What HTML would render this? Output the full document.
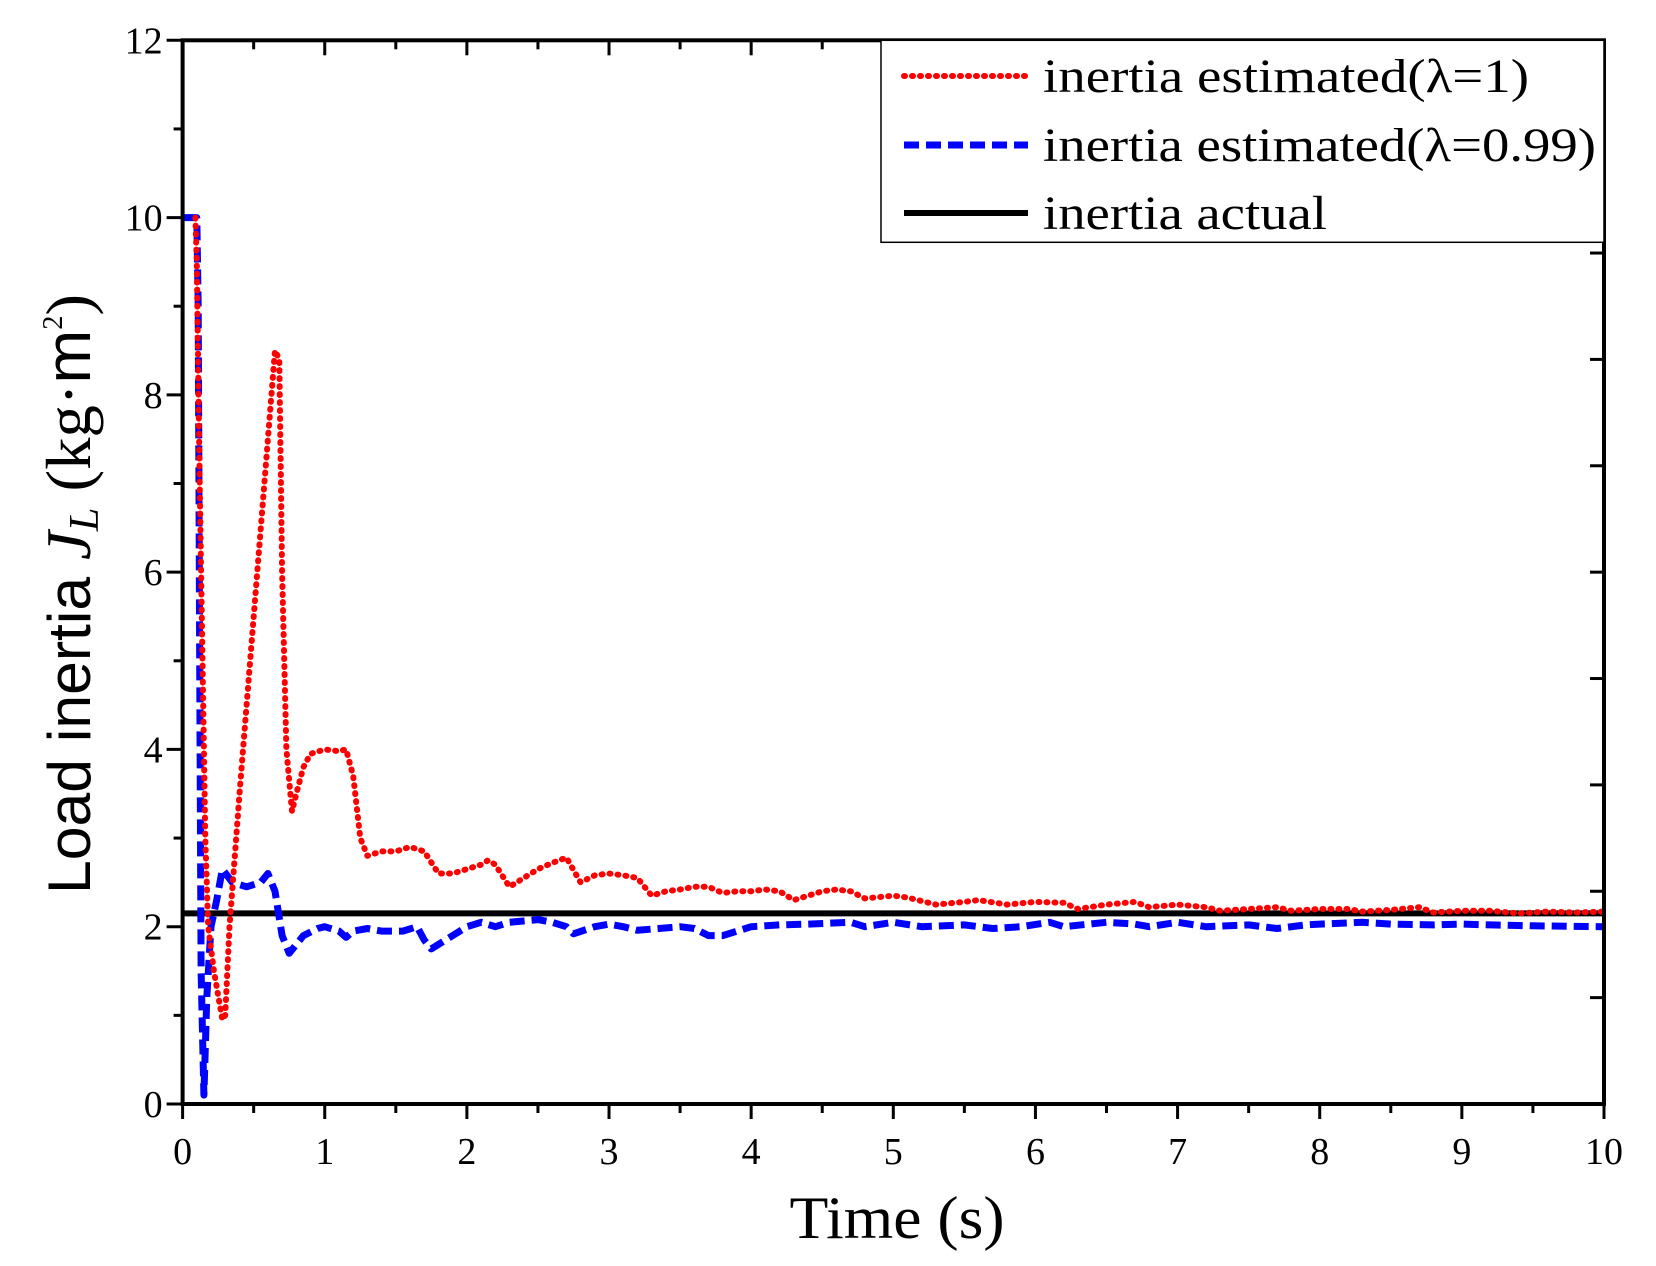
<!DOCTYPE html>
<html><head><meta charset="utf-8"><style>
html,body{margin:0;padding:0;background:#fff;}
svg{display:block;font-family:"Liberation Serif",serif;}
</style></head><body>
<svg id="chart" width="1656" height="1266" viewBox="0 0 1656 1266" xmlns="http://www.w3.org/2000/svg">
<g id="grid-ticks"></g>
<g id="series"></g>
<rect x="182.6" y="40.3" width="1421.4" height="1063.7" fill="none" stroke="#000" stroke-width="4"/>
<g id="ticklabels" font-size="38"></g>
<text x="897" y="1238" font-size="60" text-anchor="middle" textLength="215" lengthAdjust="spacingAndGlyphs">Time (s)</text>
<text transform="translate(90,594) rotate(-90)" font-size="64" text-anchor="middle" textLength="600" lengthAdjust="spacingAndGlyphs"><tspan font-family="Liberation Sans, sans-serif" font-size="60">Load inertia </tspan><tspan font-style="italic">J</tspan><tspan font-style="italic" font-size="42" dy="8">L</tspan><tspan dy="-8"> (kg·</tspan><tspan font-family="Liberation Sans, sans-serif">m</tspan><tspan font-size="28" dy="-28">2</tspan><tspan dy="28">)</tspan></text>
<g>
<rect x="881" y="40.3" width="723" height="202" fill="#fff" stroke="#000" stroke-width="1.5"/>
<line x1="904" y1="76" x2="1028" y2="76" stroke="#f00" stroke-width="6" stroke-dasharray="1 7" stroke-linecap="round"/>
<text x="1043" y="92" font-size="48" textLength="486" lengthAdjust="spacingAndGlyphs">inertia estimated(λ=1)</text>
<line x1="904" y1="145" x2="1028" y2="145" stroke="#00f" stroke-width="7" stroke-dasharray="15 7"/>
<text x="1043" y="161" font-size="48" textLength="553" lengthAdjust="spacingAndGlyphs">inertia estimated(λ=0.99)</text>
<line x1="904" y1="213" x2="1028" y2="213" stroke="#000" stroke-width="6"/>
<text x="1043" y="229" font-size="48" textLength="284" lengthAdjust="spacingAndGlyphs">inertia actual</text>
</g>
</svg>
<script>
const xTicks=[0,1,2,3,4,5,6,7,8,9,10];
const yTicks=[0,2,4,6,8,10,12];
const redT=[0.09,0.1,0.12,0.14,0.16,0.18,0.22,0.28,0.3,0.33,0.4,0.5,0.6,0.65,0.68,0.7,0.73,0.77,0.8,0.85,0.9,1.0,1.1,1.15,1.2,1.25,1.3,1.4,1.5,1.6,1.7,1.8,1.9,2.0,2.1,2.15,2.2,2.3,2.4,2.5,2.6,2.7,2.8,2.9,3.0,3.1,3.2,3.3,3.4,3.5,3.6,3.7,3.8,3.9,4.0,4.1,4.2,4.3,4.4,4.5,4.6,4.7,4.8,5.0,5.1,5.3,5.5,5.6,5.8,6.0,6.2,6.3,6.5,6.7,6.8,7.0,7.2,7.3,7.5,7.7,7.8,8.0,8.2,8.3,8.5,8.7,8.8,9.0,9.2,9.4,9.6,9.8,10];
const redV=[10,9.5,7,5,3,2,1.5,0.95,1,2,3.5,5.5,7.5,8.5,8.4,6,4,3.3,3.5,3.8,3.95,4.0,3.98,4.0,3.7,3.0,2.8,2.85,2.85,2.9,2.85,2.6,2.6,2.65,2.7,2.75,2.7,2.45,2.55,2.65,2.72,2.78,2.5,2.58,2.6,2.58,2.55,2.35,2.4,2.42,2.45,2.45,2.38,2.4,2.4,2.42,2.4,2.3,2.35,2.4,2.42,2.4,2.32,2.35,2.33,2.25,2.28,2.3,2.25,2.28,2.27,2.2,2.25,2.28,2.22,2.25,2.22,2.18,2.2,2.22,2.18,2.2,2.2,2.17,2.19,2.22,2.16,2.18,2.18,2.15,2.17,2.16,2.17];
const blueT=[0,0.1,0.11,0.12,0.13,0.15,0.17,0.2,0.24,0.28,0.35,0.45,0.55,0.6,0.65,0.7,0.75,0.85,0.95,1.0,1.1,1.15,1.2,1.3,1.4,1.55,1.65,1.7,1.75,1.85,2.0,2.1,2.2,2.3,2.5,2.6,2.7,2.75,2.9,3.0,3.1,3.2,3.5,3.6,3.7,3.8,4.0,4.2,4.4,4.7,4.8,5.0,5.2,5.5,5.7,5.9,6.1,6.2,6.5,6.7,6.8,7.0,7.2,7.5,7.7,7.9,8.0,8.3,8.5,8.8,9.0,9.2,9.5,10];
const blueV=[10,10,9,5,1.5,0.1,1.2,2.0,2.3,2.65,2.5,2.45,2.5,2.6,2.4,1.9,1.7,1.9,1.98,2.0,1.95,1.88,1.95,1.98,1.95,1.95,2.0,1.85,1.75,1.85,2.0,2.05,2.0,2.05,2.08,2.05,2.0,1.92,2.0,2.03,2.0,1.96,2.0,1.98,1.9,1.9,2.0,2.02,2.03,2.05,2.0,2.05,2.0,2.02,1.98,2.0,2.05,2.0,2.05,2.03,2.0,2.05,2.0,2.02,1.98,2.02,2.03,2.05,2.03,2.02,2.03,2.02,2.01,2.0];
const actualV=[2.15];
const NS='http://www.w3.org/2000/svg';
const X0=182.6,X1=1604,Y0=1104,Y1=40.3;
function sx(t){return X0+(t-0)/(10-0)*(X1-X0);}
function sy(v){return Y0-(v-0)/(12-0)*(Y0-Y1);}
function mk(tag,attrs,parent){const e=document.createElementNS(NS,tag);for(const k in attrs)e.setAttribute(k,attrs[k]);parent.appendChild(e);return e;}
const tk=document.getElementById('grid-ticks');
const tl=document.getElementById('ticklabels');
const se=document.getElementById('series');
xTicks.forEach((t,i)=>{
  const a=mk('line',{x1:sx(t),x2:sx(t),y1:Y0,y2:Y0+15,stroke:'#000','stroke-width':3},tk);
  
  
  const b=mk('line',{x1:sx(t),x2:sx(t),y1:Y1,y2:Y1+15,stroke:'#000','stroke-width':3},tk);
  
  
  if(i<xTicks.length-1){
    const m=(t+xTicks[i+1])/2;
    const c=mk('line',{x1:sx(m),x2:sx(m),y1:Y0,y2:Y0+9,stroke:'#000','stroke-width':3},tk);
    
    
    const d=mk('line',{x1:sx(m),x2:sx(m),y1:Y1,y2:Y1+9,stroke:'#000','stroke-width':3},tk);
    
    
  }
  const tx=mk('text',{x:sx(t),y:Y0+60,'text-anchor':'middle'},tl);
  tx.textContent=t;
  
  
});
yTicks.forEach((v,i)=>{
  const a=mk('line',{x1:X0-16,x2:X0,y1:sy(v),y2:sy(v),stroke:'#000','stroke-width':3},tk);
  
  
  if(i<yTicks.length-1){
    const m=(v+yTicks[i+1])/2;
    const c=mk('line',{x1:X0-9,x2:X0,y1:sy(m),y2:sy(m),stroke:'#000','stroke-width':3},tk);
    
    
  }
  const tx=mk('text',{x:X0-20,y:sy(v)+13,'text-anchor':'end'},tl);
  tx.textContent=v;
  
  
});
for(let k=1;k<10;k++){
  const y=Y1+k*(Y0-Y1)/10;
  const a=mk('line',{x1:X1-14,x2:X1,y1:y,y2:y,stroke:'#000','stroke-width':3},tk);
  
  
}
function path(T,V){return T.map((t,i)=>(i?'L':'M')+sx(t).toFixed(1)+','+sy(V[i]).toFixed(1)).join(' ');}
const act=mk('line',{x1:X0,x2:X1,y1:sy(actualV[0]),y2:sy(actualV[0]),stroke:'#000','stroke-width':6},se);


const bl=mk('path',{d:path(blueT,blueV),fill:'none',stroke:'#00f','stroke-width':7,'stroke-dasharray':'15 7','stroke-linejoin':'round'},se);


const rd=mk('path',{d:path(redT,redV),fill:'none',stroke:'#f00','stroke-width':6,'stroke-dasharray':'1 7','stroke-linecap':'round','stroke-linejoin':'round'},se);


</script>
</body></html>
